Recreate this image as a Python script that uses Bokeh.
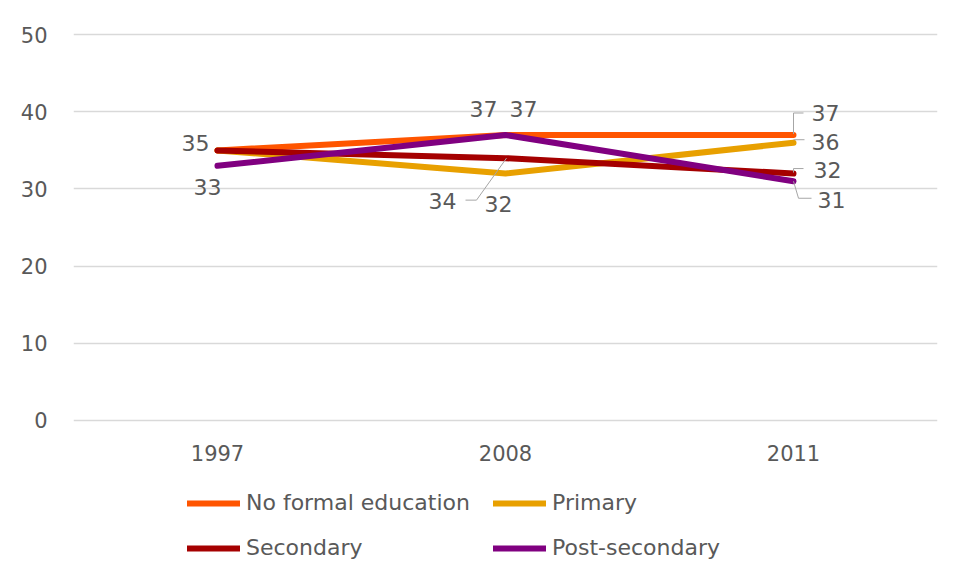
from bokeh.plotting import figure
from bokeh.layouts import column
from bokeh.models import Range1d, FixedTicker, Legend, LegendItem
from bokeh.core.properties import value
from bokeh.embed import file_html
from bokeh.resources import INLINE

years = ["1997", "2008", "2011"]
series_names = ["No formal education", "Primary", "Secondary", "Post-secondary"]
no_formal = [35, 37, 37]
primary = [35, 32, 36]
secondary = [35, 34, 32]
post_secondary = [33, 37, 31]
colors = ["#FF5500", "#E8A000", "#A50000", "#800080"]
y_ticks = [0, 10, 20, 30, 40, 50]

values = [no_formal, primary, secondary, post_secondary]
FONT = "DejaVu Sans"
GRAY = "#595959"

W, H = 939, 470
LEFT, RIGHT, TOP, BOTTOM = 73, 2, 32, 48
Y0, Y1 = -0.3, 50.3
PX_X = (W - LEFT - RIGHT) / 3.0
PX_Y = (H - TOP - BOTTOM) / (Y1 - Y0)

p = figure(width=W, height=H, output_backend="svg", toolbar_location=None,
           x_range=Range1d(-0.5, 2.5), y_range=Range1d(Y0, Y1),
           min_border_left=LEFT, min_border_right=RIGHT,
           min_border_top=TOP, min_border_bottom=BOTTOM)
p.outline_line_color = None
p.xgrid.grid_line_color = None
p.ygrid.grid_line_color = "#d9d9d9"
p.ygrid.grid_line_width = 1.5

p.xaxis.ticker = FixedTicker(ticks=list(range(len(years))))
p.xaxis.major_label_overrides = {i: y for i, y in enumerate(years)}
p.yaxis.ticker = FixedTicker(ticks=y_ticks)
for ax in (p.xaxis, p.yaxis):
    ax.axis_line_color = None
    ax.major_tick_line_color = None
    ax.minor_tick_line_color = None
    ax.major_label_text_font = FONT
    ax.major_label_text_font_size = "21px"
    ax.major_label_text_color = GRAY
p.yaxis.major_label_standoff = 20
p.xaxis.major_label_standoff = 16

xs = list(range(len(years)))
for name, vals, c in zip(series_names, values, colors):
    p.line(xs, vals, line_color=c, line_width=6, line_cap="round", line_join="round")

# data labels: (series, point, dx px, dy px, align)
label_spec = [
    (0, 0, -8, -7, "right"),
    (3, 0, -10, 21, "center"),
    (0, 1, -22, -26, "center"),
    (3, 1, 18, -26, "center"),
    (2, 1, -63, 43, "center"),
    (1, 1, -7, 30, "center"),
    (0, 2, 32, -22, "center"),
    (1, 2, 32, -1, "center"),
    (2, 2, 34, -4, "center"),
    (3, 2, 38, 19, "center"),
]
for s, i, dx, dy, al in label_spec:
    p.text(x=[xs[i]], y=[values[s][i]], text=[str(values[s][i])],
           x_offset=dx, y_offset=dy, text_align=al, text_baseline="middle",
           text_font=value(FONT), text_font_size="22px", text_color=GRAY)

# leader lines: (series, point, list of pixel offsets)
leaders = [
    (2, 1, [(1, 0), (-29, 42), (-40, 42)]),
    (0, 2, [(0, -1), (0, -22), (10, -22)]),
    (1, 2, [(0, -3), (11, -3)]),
    (2, 2, [(0, -1), (0, -5), (10, -5)]),
    (3, 2, [(0, 0), (5, 17), (18, 17)]),
]
lx, ly = [], []
for s, i, pts in leaders:
    lx.append([xs[i] + dx / PX_X for dx, dy in pts])
    ly.append([values[s][i] - dy / PX_Y for dx, dy in pts])
p.multi_line(xs=lx, ys=ly, line_color="#a6a6a6", line_width=1)

# legend strip below the chart (frame aligned with the chart frame)
lg = figure(width=W, height=91, output_backend="svg", toolbar_location=None,
            x_range=Range1d(0, 1), y_range=Range1d(0, 1),
            min_border_left=0, min_border_right=0, min_border_top=0, min_border_bottom=0,
            x_axis_location=None, y_axis_location=None)
lg.outline_line_color = None
lg.grid.visible = False
swatches = [lg.line(x=[2], y=[2], line_color=c, line_width=6, line_cap="round") for c in colors]
legend = Legend(items=[LegendItem(label=n, renderers=[r]) for n, r in zip(series_names, swatches)],
                orientation="horizontal", ncols=2, location=(114, 1),
                glyph_width=53, glyph_height=24, label_height=24, label_width=227,
                label_standoff=6,
                label_text_font=FONT, label_text_font_size="22px", label_text_color=GRAY,
                spacing=20, padding=0, margin=0,
                border_line_color=None, background_fill_alpha=0)
lg.add_layout(legend, "center")

open("out.html", "w").write(file_html(column(p, lg, spacing=0), INLINE))
